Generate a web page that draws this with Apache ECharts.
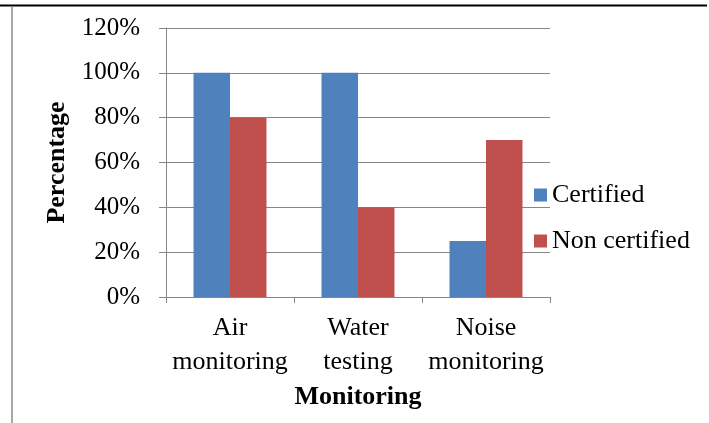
<!DOCTYPE html>
<html>
<head>
<meta charset="utf-8">
<script src="https://cdn.jsdelivr.net/npm/echarts@6/dist/echarts.min.js"></script>
<style>
html,body{margin:0;padding:0;background:#fff;}
#chart{width:709px;height:423px;}
</style>
</head>
<body>
<div id="chart"></div>
<script>
var categories = ['Air\nmonitoring', 'Water\ntesting', 'Noise\nmonitoring'];
var certified = [100, 100, 25];
var nonCertified = [80, 40, 70];
var yTicks = [0, 20, 40, 60, 80, 100, 120];

var FONT = '"Liberation Serif", "Times New Roman", serif';
var chart = echarts.init(document.getElementById('chart'));
chart.setOption({
  animation: false,
  backgroundColor: '#fff',
  textStyle: { fontFamily: FONT, color: '#000' },
  grid: { left: 166, right: 159, top: 28, bottom: 126, containLabel: false },
  legend: {
    orient: 'vertical',
    left: 534,
    top: 182,
    padding: 0,
    itemWidth: 13,
    itemHeight: 13,
    itemGap: 20,
    icon: 'rect',
    textStyle: { fontFamily: FONT, fontSize: 26, color: '#000' },
    data: ['Certified', 'Non certified']
  },
  xAxis: {
    type: 'category',
    data: categories,
    name: 'Monitoring',
    nameLocation: 'middle',
    nameGap: 81,
    nameTextStyle: { fontFamily: FONT, fontSize: 26, fontWeight: 'bold', color: '#000' },
    axisLine: { lineStyle: { color: '#868686', width: 1 } },
    axisTick: { show: true, length: 6, lineStyle: { color: '#868686' }, alignWithLabel: false },
    axisLabel: { interval: 0, hideOverlap: false, fontFamily: FONT, fontSize: 26, color: '#000', lineHeight: 34, margin: 14 },
    splitLine: { show: false }
  },
  yAxis: {
    type: 'value',
    min: yTicks[0],
    max: yTicks[yTicks.length - 1],
    interval: 20,
    name: 'Percentage',
    nameLocation: 'middle',
    nameRotate: 90,
    nameGap: 84,
    nameTextStyle: { fontFamily: FONT, fontSize: 26, fontWeight: 'bold', color: '#000' },
    axisLine: { show: true, lineStyle: { color: '#868686', width: 1 } },
    axisTick: { show: true, length: 7, inside: false, lineStyle: { color: '#868686' } },
    axisLabel: { fontFamily: FONT, fontSize: 25, color: '#000', margin: 26, formatter: '{value}%' },
    splitLine: { show: true, lineStyle: { color: '#868686', width: 1 } }
  },
  series: [
    {
      name: 'Certified', type: 'bar', data: certified,
      barGap: '0%', barCategoryGap: '43%',
      itemStyle: { color: '#4F81BD' }
    },
    {
      name: 'Non certified', type: 'bar', data: nonCertified,
      barGap: '0%', barCategoryGap: '43%',
      itemStyle: { color: '#C0504D' }
    }
  ],
  graphic: [
    { type: 'line', shape: { x1: 0, y1: 5.5, x2: 707, y2: 5.5 }, style: { stroke: '#000', lineWidth: 2 } },
    { type: 'line', shape: { x1: 12, y1: 6, x2: 12, y2: 423 }, style: { stroke: '#8a8a8a', lineWidth: 1.5 } }
  ]
});
</script>
</body>
</html>
